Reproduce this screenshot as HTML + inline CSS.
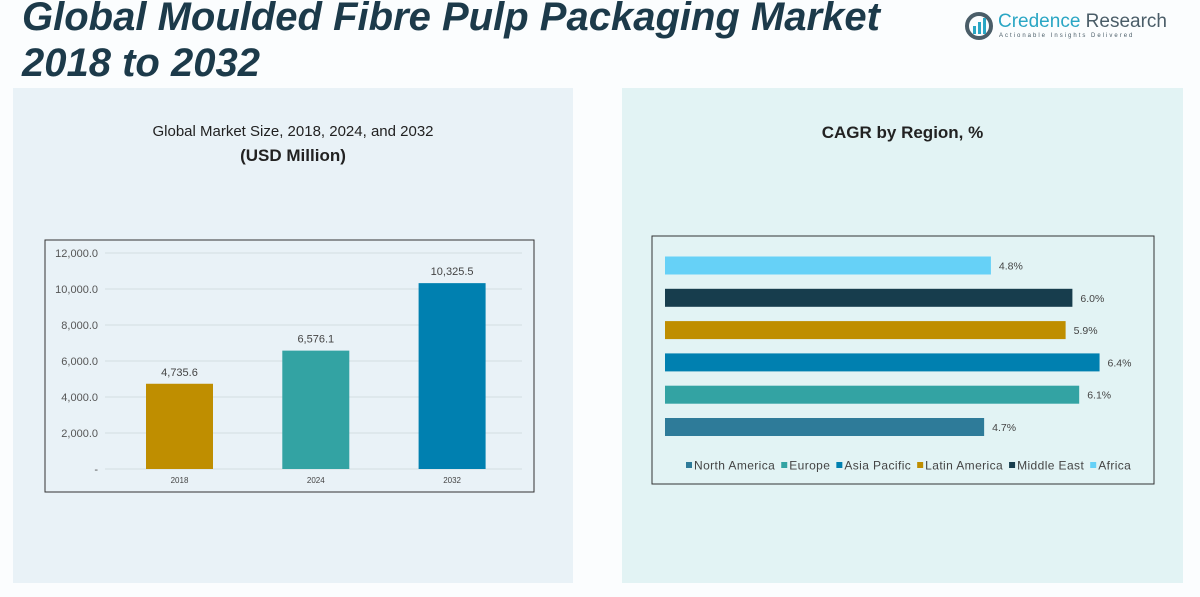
<!DOCTYPE html>
<html><head><meta charset="utf-8"><style>
body{margin:0;width:1200px;height:597px;background:#fbfdfe;font-family:"Liberation Sans",sans-serif;position:relative;overflow:hidden}
.abs{position:absolute}
</style></head><body>
<div class="abs" style="left:13px;top:88px;width:560px;height:495px;background:#e9f2f7"></div>
<div class="abs" style="left:622px;top:88px;width:561px;height:495px;background:#e2f3f4"></div>
<div class="abs" style="left:22px;top:-6px;font-size:40px;font-weight:bold;font-style:italic;color:#1c3a4a;line-height:46px;white-space:nowrap">Global Moulded Fibre Pulp Packaging Market<br>2018 to 2032</div>
<div class="abs" style="left:965px;top:10px;width:200px;height:32px">
<svg width="30" height="30" style="position:absolute;left:0;top:2px"><circle cx="14" cy="14" r="12" fill="none" stroke="#4a5d68" stroke-width="4"/><rect x="8" y="14" width="3" height="8" fill="#2aa6c4"/><rect x="13" y="10" width="3" height="12" fill="#2aa6c4"/><rect x="18" y="6" width="3" height="16" fill="#2aa6c4"/></svg>
<div class="abs" style="left:33px;top:1px;font-size:19px;white-space:nowrap"><span style="color:#2aa6c4">Credence</span> <span style="color:#4a5d68">Research</span></div>
<div class="abs" style="left:34px;top:23px;font-size:6px;letter-spacing:2px;color:#4a5d68;white-space:nowrap">Actionable Insights Delivered</div>
</div>
<div class="abs" style="left:13px;width:560px;top:120px;text-align:center;font-size:15px;color:#222;line-height:24px">Global Market Size, 2018, 2024, and 2032<br><b style="font-size:17px">(USD Million)</b></div>
<div class="abs" style="left:622px;width:561px;top:123px;text-align:center;font-size:17px;font-weight:bold;color:#222">CAGR by Region, %</div>
<svg class="abs" style="left:0;top:0" width="1200" height="597" id="svg"></svg>
<script>
const years=["2018","2024","2032"];
const sizes=[4735.6,6576.1,10325.5];
const yTicks=[0,2000,4000,6000,8000,10000,12000];
const yearColors=["#bf8e00","#33a3a3","#0080b0"];
const regions=["North America","Europe","Asia Pacific","Latin America","Middle East","Africa"];
const cagr=[4.7,6.1,6.4,5.9,6.0,4.8];
const regionColors=["#2e7b99","#33a3a3","#0080b0","#bf8e00","#173d4d","#66d1f7"];
const NS="http://www.w3.org/2000/svg";
const svg=document.getElementById('svg');
function mk(t,a,txt){const e=document.createElementNS(NS,t);for(const k in a)e.setAttribute(k,a[k]);if(txt!==undefined)e.textContent=txt;svg.appendChild(e);return e;}
let f=mk('rect',{x:45,y:240,width:489,height:252,fill:'none',stroke:'#333','stroke-width':1});


const y0=469,yTop=253,x0=105,x1=522;
const yS=v=>y0-(v/12000)*(y0-yTop);
const c0=179.5,cStep=136.3;
yTicks.forEach(t=>{
 let g=mk('line',{x1:x0,x2:x1,y1:yS(t),y2:yS(t),stroke:'#d4dde2','stroke-width':1});
 
 
 let l=mk('text',{x:98,y:yS(t)+4,'text-anchor':'end','font-size':11,fill:'#555'},t===0?'-':t.toLocaleString('en-US',{minimumFractionDigits:1}));
 
 
});
years.forEach((yr,i)=>{
 const cx=c0+cStep*i;
 let r=mk('rect',{x:cx-33.5,y:yS(sizes[i]),width:67,height:y0-yS(sizes[i]),fill:yearColors[i]});
 
 
 let v=mk('text',{x:cx,y:yS(sizes[i])-8,'text-anchor':'middle','font-size':11,fill:'#444'},sizes[i].toLocaleString('en-US',{minimumFractionDigits:1}));
 
 
 let xl=mk('text',{x:cx,y:483,'text-anchor':'middle','font-size':8,fill:'#444'},yr);
 
 
});
let f2=mk('rect',{x:652,y:236,width:502,height:248,fill:'none',stroke:'#333','stroke-width':1});


const bx0=665,pxPer=67.9;
regions.forEach((r,i)=>{
 const yc=427-i*32.3;
 let b=mk('rect',{x:bx0,y:yc-9,width:cagr[i]*pxPer,height:18,fill:regionColors[i]});
 
 
 let t=mk('text',{x:bx0+cagr[i]*pxPer+8,y:yc+4,'font-size':10.5,fill:'#444'},cagr[i].toFixed(1)+'%');
 
 
});
let lx=686;
regions.forEach((r,i)=>{
 let s=mk('rect',{x:lx,y:462,width:6,height:6,fill:regionColors[i]});
 
 
 let t=mk('text',{x:lx+8,y:469.5,'font-size':12,fill:'#444','letter-spacing':0.4},r);
 
 
 lx+=8+t.getComputedTextLength()+6;
});
</script>
</body></html>
